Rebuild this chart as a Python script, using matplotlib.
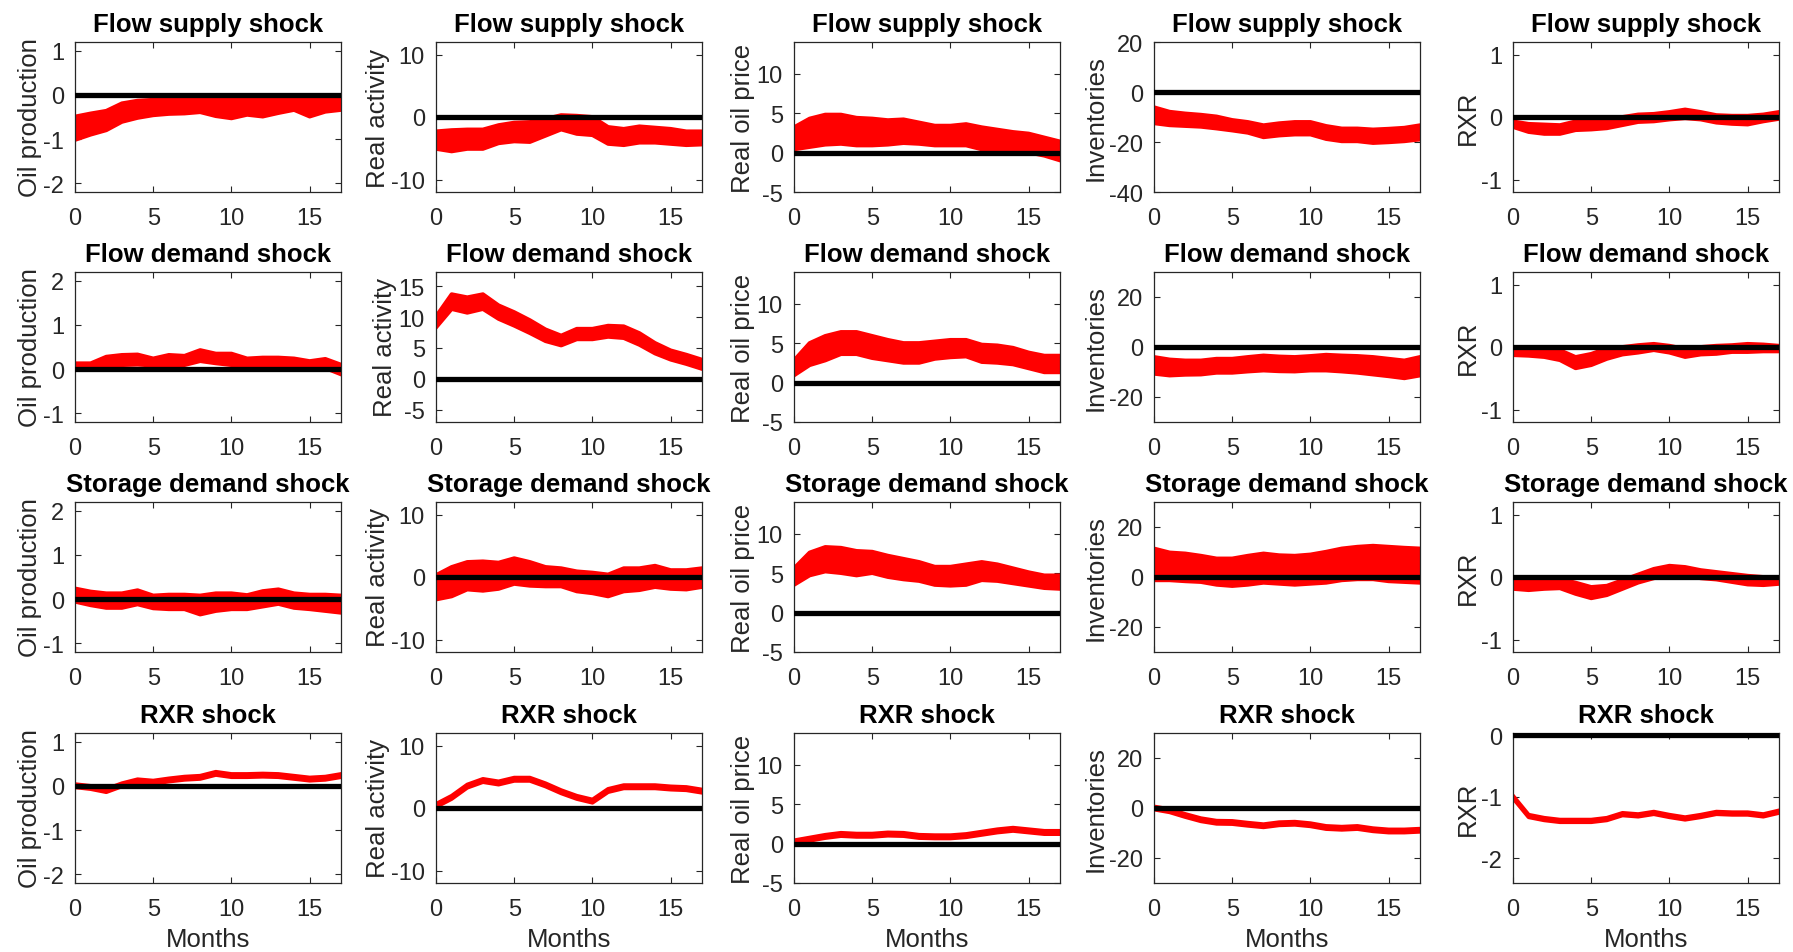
import matplotlib
matplotlib.use("Agg")
import matplotlib.pyplot as plt

plt.rcParams['font.family'] = ['Liberation Sans', 'DejaVu Sans']
plt.rcParams['axes.unicode_minus'] = False

months = list(range(18))
shocks = ["Flow supply shock", "Flow demand shock", "Storage demand shock", "RXR shock"]
variables = ["Oil production", "Real activity", "Real oil price", "Inventories", "RXR"]

# Flow supply shock
fs_oil_hi = [-0.49,-0.42,-0.36,-0.19,-0.13,-0.11,-0.05,-0.04,-0.02,-0.07,-0.11,-0.07,-0.08,-0.06,-0.04,-0.11,-0.08,-0.04]
fs_oil_lo = [-1.02,-0.9,-0.8,-0.61,-0.52,-0.46,-0.43,-0.42,-0.39,-0.48,-0.53,-0.45,-0.49,-0.41,-0.34,-0.49,-0.38,-0.34]
fs_ra_hi = [-2.3,-2.1,-2.0,-2.0,-1.3,-0.9,-0.8,-0.3,0.3,0.2,0.0,-1.6,-1.9,-1.5,-1.7,-1.9,-2.3,-2.3]
fs_ra_lo = [-5.1,-5.5,-5.1,-5.1,-4.2,-3.9,-4.0,-3.0,-2.0,-2.7,-2.9,-4.3,-4.5,-4.1,-4.1,-4.3,-4.5,-4.4]
fs_rop_hi = [3.2,4.3,4.8,4.8,4.4,4.3,4.1,4.2,3.8,3.4,3.4,3.6,3.2,2.9,2.6,2.4,1.9,1.4]
fs_rop_lo = [0.4,0.7,1.0,1.1,0.9,0.9,1.0,1.2,1.1,0.9,0.9,0.9,0.4,0.2,0.1,0.0,-0.4,-1.0]
fs_inv_hi = [-6.1,-7.9,-8.6,-9.1,-9.8,-11.2,-12.0,-13.3,-12.5,-12.0,-12.0,-13.6,-14.6,-14.6,-15.0,-14.7,-14.3,-13.3]
fs_inv_lo = [-12.5,-13.3,-13.6,-13.9,-14.6,-15.4,-16.3,-18.1,-17.4,-17.0,-17.0,-18.8,-19.7,-19.7,-20.4,-20.1,-19.7,-19.0]
fs_rxr_hi = [-0.07,-0.11,-0.12,-0.13,-0.07,-0.05,-0.03,0.0,0.04,0.05,0.08,0.12,0.08,0.03,0.02,0.02,0.04,0.08]
fs_rxr_lo = [-0.16,-0.24,-0.27,-0.27,-0.21,-0.2,-0.18,-0.13,-0.08,-0.07,-0.04,-0.02,-0.04,-0.09,-0.11,-0.12,-0.07,-0.03]

# Flow demand shock
fd_oil_hi = [0.13,0.13,0.28,0.32,0.33,0.24,0.32,0.3,0.43,0.35,0.35,0.24,0.26,0.26,0.24,0.18,0.23,0.1]
fd_oil_lo = [0.03,0.02,0.08,0.09,0.1,0.08,0.09,0.09,0.18,0.13,0.09,0.03,0.03,0.03,0.03,0.02,0.02,-0.12]
fd_ra_hi = [10.1,13.7,13.2,13.7,11.9,10.8,9.5,8.0,7.0,8.1,8.1,8.6,8.5,7.4,5.8,4.6,3.9,3.1]
fd_ra_lo = [8.3,11.3,10.7,11.3,9.7,8.6,7.4,6.1,5.4,6.4,6.4,6.8,6.6,5.5,4.1,3.1,2.4,1.6]
fd_rop_hi = [2.8,5.0,5.9,6.4,6.4,5.9,5.4,5.0,5.0,5.2,5.4,5.4,4.8,4.7,4.4,3.8,3.4,3.4]
fd_rop_lo = [0.9,2.2,2.8,3.6,3.6,3.1,2.8,2.5,2.5,3.0,3.2,3.3,2.6,2.5,2.3,1.8,1.3,1.3]
fd_inv_hi = [-4.0,-5.0,-5.4,-5.4,-4.7,-4.7,-4.0,-3.4,-3.8,-4.0,-3.6,-3.1,-3.4,-3.6,-4.0,-4.7,-5.4,-4.0]
fd_inv_lo = [-10.7,-11.4,-11.1,-11.0,-10.3,-10.3,-9.8,-9.4,-9.7,-9.8,-9.4,-9.4,-9.8,-10.3,-11.0,-11.7,-12.5,-11.4]
fd_rxr_hi = [0.0,-0.02,-0.03,-0.05,-0.16,-0.11,-0.02,0.0,0.03,0.05,0.02,-0.03,0.0,0.02,0.03,0.05,0.04,0.02]
fd_rxr_lo = [-0.13,-0.14,-0.16,-0.21,-0.34,-0.29,-0.19,-0.12,-0.09,-0.05,-0.09,-0.16,-0.12,-0.11,-0.08,-0.08,-0.07,-0.07]

# Storage demand shock
sd_oil_hi = [0.24,0.17,0.13,0.13,0.2,0.08,0.1,0.1,0.08,0.13,0.13,0.09,0.18,0.22,0.13,0.1,0.1,0.08]
sd_oil_lo = [-0.06,-0.14,-0.2,-0.2,-0.12,-0.21,-0.23,-0.23,-0.35,-0.27,-0.23,-0.23,-0.17,-0.11,-0.2,-0.23,-0.27,-0.31]
sd_ra_hi = [0.3,1.6,2.4,2.5,2.3,3.0,2.4,1.6,1.4,0.9,0.7,0.4,1.4,1.4,1.8,1.1,1.1,1.4]
sd_ra_lo = [-3.6,-3.1,-2.0,-2.2,-1.9,-1.1,-1.4,-1.5,-1.5,-2.3,-2.6,-3.1,-2.3,-2.1,-1.6,-1.9,-2.0,-1.6]
sd_rop_hi = [5.6,7.6,8.3,8.2,7.8,7.7,7.2,6.8,6.4,5.8,5.8,6.1,6.4,6.1,5.6,5.1,4.7,4.7]
sd_rop_lo = [3.5,4.7,5.2,5.0,4.7,5.0,4.5,4.2,4.0,3.5,3.4,3.5,4.1,4.0,3.7,3.4,3.1,3.0]
sd_inv_hi = [11.4,9.8,9.4,8.5,7.4,7.4,8.5,9.4,8.7,8.5,9.0,10.1,11.4,12.1,12.5,12.1,11.7,11.4]
sd_inv_lo = [-1.3,-1.3,-1.7,-2.0,-3.1,-3.6,-3.1,-2.3,-2.7,-3.1,-2.7,-2.3,-1.3,-0.9,-0.9,-1.7,-2.0,-2.3]
sd_rxr_hi = [-0.05,-0.07,-0.05,-0.03,-0.09,-0.16,-0.14,-0.05,0.04,0.13,0.18,0.16,0.11,0.08,0.05,0.02,0.0,0.0]
sd_rxr_lo = [-0.19,-0.21,-0.19,-0.18,-0.27,-0.34,-0.29,-0.19,-0.09,-0.02,0.03,0.02,-0.02,-0.04,-0.08,-0.12,-0.13,-0.11]

# RXR shock
rx_oil_hi = [0.04,0.0,-0.07,0.06,0.15,0.12,0.17,0.21,0.23,0.32,0.27,0.27,0.28,0.27,0.23,0.19,0.21,0.27]
rx_oil_lo = [-0.03,-0.07,-0.14,-0.01,0.08,0.05,0.1,0.14,0.16,0.25,0.2,0.2,0.21,0.2,0.16,0.12,0.14,0.2]
rx_ra_hi = [0.65,1.95,3.75,4.65,4.25,4.85,4.85,3.95,2.85,1.95,1.35,3.05,3.65,3.65,3.65,3.45,3.35,2.95]
rx_ra_lo = [0.15,1.45,3.25,4.15,3.75,4.35,4.35,3.45,2.35,1.45,0.85,2.55,3.15,3.15,3.15,2.95,2.85,2.45]
rx_rop_hi = [0.4,0.75,1.1,1.35,1.25,1.25,1.4,1.35,1.1,1.05,1.05,1.2,1.5,1.8,2.0,1.8,1.6,1.6]
rx_rop_lo = [0.0,0.35,0.7,0.95,0.85,0.85,1.0,0.95,0.7,0.65,0.65,0.8,1.1,1.4,1.6,1.4,1.2,1.2]
rx_inv_hi = [0.6,-0.5,-2.4,-4.1,-5.1,-5.2,-5.9,-6.5,-5.7,-5.5,-6.1,-7.2,-7.5,-7.2,-8.1,-8.6,-8.6,-8.3]
rx_inv_lo = [-0.6,-1.7,-3.6,-5.3,-6.3,-6.4,-7.1,-7.7,-6.9,-6.7,-7.3,-8.4,-8.7,-8.4,-9.3,-9.8,-9.8,-9.5]
rx_rxr_hi = [-0.98,-1.29,-1.34,-1.37,-1.37,-1.37,-1.34,-1.26,-1.28,-1.24,-1.29,-1.33,-1.29,-1.24,-1.25,-1.25,-1.28,-1.22]
rx_rxr_lo = [-1.02,-1.33,-1.38,-1.41,-1.41,-1.41,-1.38,-1.30,-1.32,-1.28,-1.33,-1.37,-1.33,-1.28,-1.29,-1.29,-1.32,-1.26]

upper = [
    [fs_oil_hi, fs_ra_hi, fs_rop_hi, fs_inv_hi, fs_rxr_hi],
    [fd_oil_hi, fd_ra_hi, fd_rop_hi, fd_inv_hi, fd_rxr_hi],
    [sd_oil_hi, sd_ra_hi, sd_rop_hi, sd_inv_hi, sd_rxr_hi],
    [rx_oil_hi, rx_ra_hi, rx_rop_hi, rx_inv_hi, rx_rxr_hi],
]
lower = [
    [fs_oil_lo, fs_ra_lo, fs_rop_lo, fs_inv_lo, fs_rxr_lo],
    [fd_oil_lo, fd_ra_lo, fd_rop_lo, fd_inv_lo, fd_rxr_lo],
    [sd_oil_lo, sd_ra_lo, sd_rop_lo, sd_inv_lo, sd_rxr_lo],
    [rx_oil_lo, rx_ra_lo, rx_rop_lo, rx_inv_lo, rx_rxr_lo],
]

ylims = [
    [(-2.2, 1.2), (-12, 12), (-5, 14), (-40, 20), (-1.2, 1.2)],
    [(-1.2, 2.2), (-7, 17.3), (-5, 14), (-30, 30), (-1.2, 1.2)],
    [(-1.2, 2.2), (-12, 12), (-5, 14), (-30, 30), (-1.2, 1.2)],
    [(-2.2, 1.2), (-12, 12), (-5, 14), (-30, 30), (-2.4, 0.04)],
]
yticks = [
    [[-2, -1, 0, 1], [-10, 0, 10], [-5, 0, 5, 10], [-40, -20, 0, 20], [-1, 0, 1]],
    [[-1, 0, 1, 2], [-5, 0, 5, 10, 15], [-5, 0, 5, 10], [-20, 0, 20], [-1, 0, 1]],
    [[-1, 0, 1, 2], [-10, 0, 10], [-5, 0, 5, 10], [-20, 0, 20], [-1, 0, 1]],
    [[-2, -1, 0, 1], [-10, 0, 10], [-5, 0, 5, 10], [-20, 0, 20], [-2, -1, 0]],
]
xticks = [0, 5, 10, 15]

W, H = 1793, 953
fig = plt.figure(figsize=(W / 100, H / 100), dpi=100)
col_left = [75, 436, 794, 1154, 1513]
row_top = [43, 273, 503, 734]
aw, ah = 266, 150

red = (1, 0, 0)
axcol = (0.15, 0.15, 0.15)
for r in range(4):
    for c in range(5):
        ax = fig.add_axes([col_left[c] / W, 1 - (row_top[r] + ah) / H, aw / W, ah / H])
        lo, hi = lower[r][c], upper[r][c]
        ax.fill_between(months, lo, hi, color=red, linewidth=0, zorder=2)
        ax.plot(months, hi, color=red, lw=2.8, zorder=2, solid_joinstyle='round')
        ax.plot(months, lo, color=red, lw=2.8, zorder=2, solid_joinstyle='round')
        ax.plot([months[0], months[-1]], [0, 0], color='k', lw=3.8, zorder=3)
        ax.set_xlim(0, 17)
        ax.set_ylim(*ylims[r][c])
        ax.set_xticks(xticks)
        ax.set_yticks(yticks[r][c])
        ax.tick_params(direction='in', top=True, right=True, length=4, width=0.8,
                       colors=axcol, labelsize=17)
        ax.tick_params(axis='x', pad=11)
        ax.tick_params(axis='y', pad=8)
        for s in ax.spines.values():
            s.set_color(axcol)
            s.set_linewidth(0.9)
        ax.set_title(shocks[r], fontsize=18.5, fontweight='bold', pad=8)
        ax.set_ylabel(variables[c], fontsize=18.5, color=axcol, labelpad=1)
        if r == 3:
            ax.set_xlabel("Months", fontsize=18.5, color=axcol, labelpad=5)

fig.savefig("out.png", dpi=100)
